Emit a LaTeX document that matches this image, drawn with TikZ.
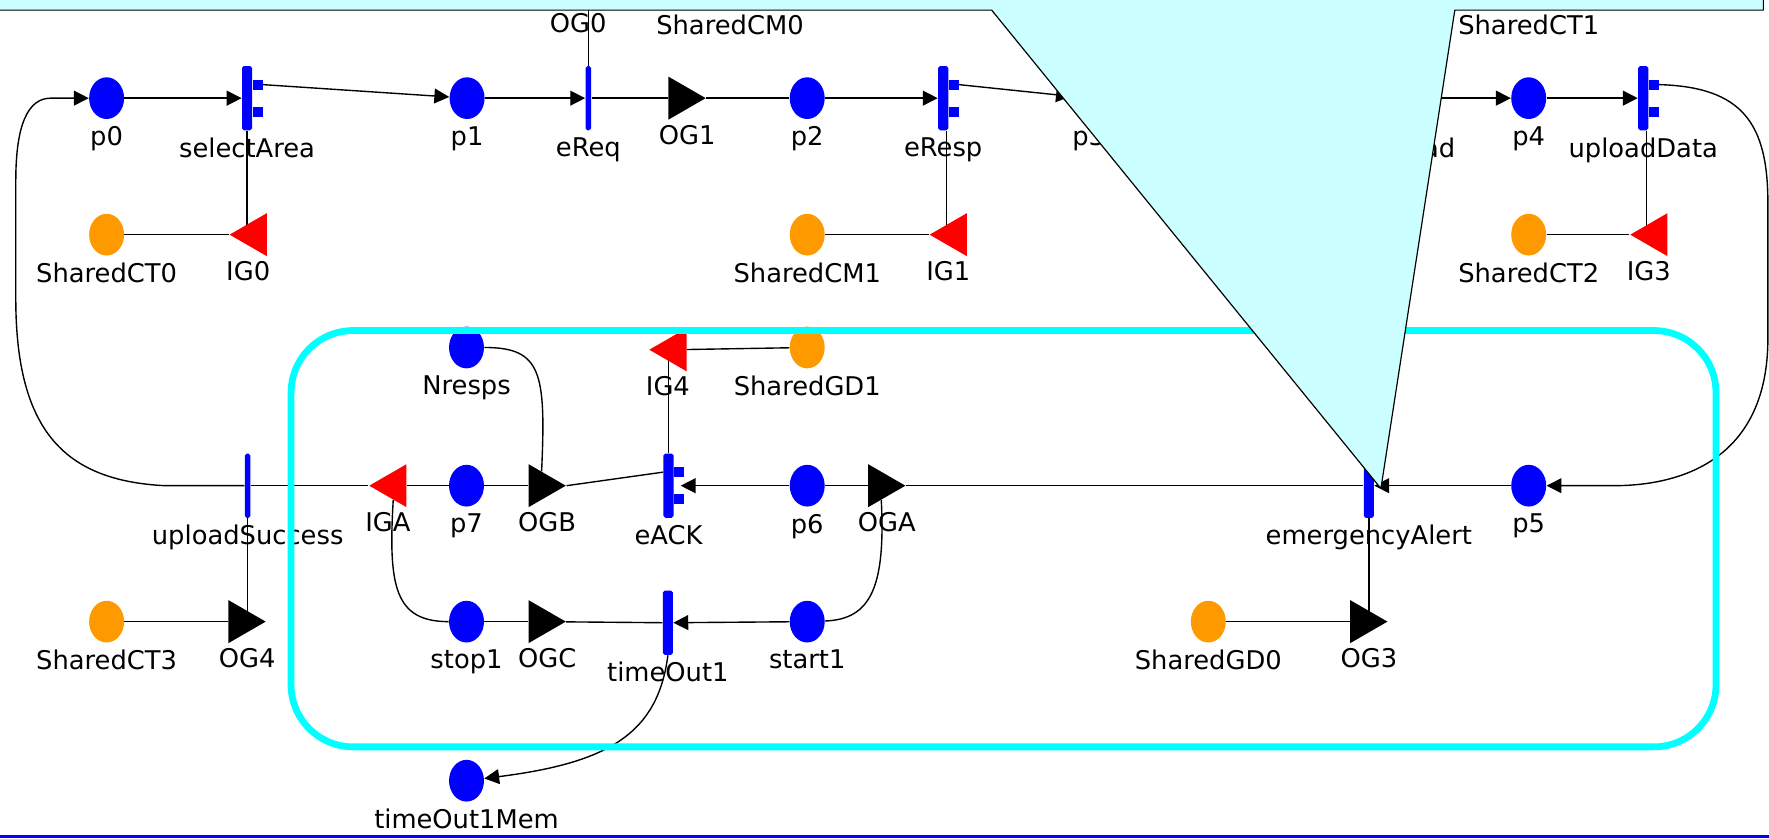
\documentclass[tikz,border=0pt]{standalone}
\definecolor{placeBlue}{HTML}{0000FF}
\definecolor{sharedOrange}{HTML}{FF9900}
\definecolor{gateRed}{HTML}{FF0000}
\definecolor{regionCyan}{HTML}{00FFFF}
\definecolor{noteCyan}{HTML}{CCFFFF}
\usepackage{tikz}
\usetikzlibrary{calc, shapes.geometric, arrows.meta, backgrounds}
\usepackage{xcolor}
\usepackage{fontspec}
\setmainfont{DejaVu Sans}
\tikzset{
  place/.style={ellipse, fill=placeBlue, minimum width=0.62cm, minimum height=0.74cm, inner sep=0pt},
  sharedPlace/.style={place, fill=sharedOrange},
  trans/.style={rectangle, fill=placeBlue, rounded corners=1pt, minimum width=0.18cm, minimum height=1.14cm, inner sep=0pt},
  instTrans/.style={trans, minimum width=0.1cm},
  gate/.style={regular polygon, regular polygon sides=3, minimum size=0.88cm, inner sep=0pt},
  outGate/.style={gate, regular polygon rotate=-90, fill=black, label={[xshift=0.11cm, yshift=-0.09cm]below:#1}},
  inGate/.style={gate, regular polygon rotate=90, fill=gateRed, label={[xshift=-0.11cm, yshift=-0.09cm]below:#1}},
  flow/.style={draw=black, line width=0.7pt, -{Triangle[length=7.5pt, width=7.5pt]}},
  link/.style={draw=black, line width=0.7pt}
}

\begin{document}
\begin{tikzpicture}[x=0.02cm, y=-0.02cm, font=\fontsize{13}{15}\selectfont]
        \useasboundingbox (0,0) rectangle (1568,743);

        \node[outGate=OG0] (OG0) at (507,-12) {};
        \node[sharedPlace, label=below:SharedCM0] (SharedCM0) at (647,-12) {};
        \node[sharedPlace, label=below:SharedCT1] (SharedCT1) at (1355,-12) {};

        \node[place, label=below:p0] (p0) at (94.5,87) {};
        \node[trans, label=below:selectArea] (selectArea) at (219,87) {};
        \node[place, label=below:p1] (p1) at (414,87) {};
        \node[instTrans, label=below:eReq] (eReq) at (521.5,87) {};
        \node[outGate=OG1] (OG1) at (603.5,87) {};
        \node[place, label=below:p2] (p2) at (715.5,87) {};
        \node[trans, label=below:eResp] (eResp) at (836,87) {};
        \node[place, label=below:p3] (p3) at (965,87) {};
        \node[trans, label=below:upload] (upload) at (1251,87) {};
        \node[place, label=below:p4] (p4) at (1355,87) {};
        \node[trans, label=below:uploadData] (uploadData) at (1456.5,87) {};

        \node[sharedPlace, label=below:SharedCT0] (SharedCT0) at (94.5,208) {};
        \node[inGate=IG0] (IG0) at (225.5,208) {};
        \node[sharedPlace, label=below:SharedCM1] (SharedCM1) at (715.5,208) {};
        \node[inGate=IG1] (IG1) at (846,208) {};
        \node[sharedPlace, label=below:SharedCT2] (SharedCT2) at (1355,208) {};
        \node[inGate=IG3] (IG3) at (1467,208) {};

        \node[place, label=below:Nresps] (Nresps) at (413.5,308) {};
        \node[inGate=IG4] (IG4) at (597.5,310) {};
        \node[sharedPlace, label=below:SharedGD1] (SharedGD1) at (715.5,308) {};

        \node[instTrans, label=below:uploadSuccess] (uploadSuccess) at (219.5,430.5) {};
        \node[inGate=IGA] (IGA) at (349.3,430.5) {};
        \node[place, label=below:p7] (p7) at (413.5,430.5) {};
        \node[outGate=OGB] (OGB) at (479.5,430.5) {};
        \node[trans, label=below:eACK] (eACK) at (592.5,430.5) {};
        \node[place, label=below:p6] (p6) at (715.5,430.5) {};
        \node[outGate=OGA] (OGA) at (780.5,430.5) {};
        \node[trans, label=below:emergencyAlert] (emergencyAlert) at (1213.3,430.5) {};
        \node[place, label=below:p5] (p5) at (1355,430.5) {};

        \node[sharedPlace, label=below:SharedCT3] (SharedCT3) at (94.5,551) {};
        \node[outGate=OG4] (OG4) at (213.5,551) {};
        \node[place, label=below:stop1] (stop1) at (413.5,551) {};
        \node[outGate=OGC] (OGC) at (479.5,551) {};
        \node[trans, label=below:timeOut1] (timeOut1) at (592,552) {};
        \node[place, label=below:start1] (start1) at (715.5,551) {};
        \node[sharedPlace, label=below:SharedGD0] (SharedGD0) at (1071,551) {};
        \node[outGate=OG3] (OG3) at (1207.8,551) {};

        \node[place, label=below:timeOut1Mem] (timeOut1Mem) at (413.5,692) {};

        \foreach \t in {selectArea, eResp, eACK, uploadData} {
          \fill[placeBlue] ([yshift=0.15cm]\t.east) rectangle ++(9,-9);
          \fill[placeBlue] ([yshift=-0.15cm]\t.east) rectangle ++(9,9);
        }

        \begin{scope}[on background layer]
          \draw[link] (eReq.north) -- (eReq.north |- OG0.center);
          \draw[link] (selectArea.south) -- (selectArea.south |- IG0.center);
          \draw[link] ([xshift=0.06cm]eResp.south) -- ([xshift=0.06cm]eResp.south |- IG1.center);
          \draw[link] ([xshift=0.06cm]uploadData.south) -- ([xshift=0.06cm]uploadData.south |- IG3.center);
          \draw[link] (eACK.north) -- (eACK.north |- IG4.center);
          \draw[link] (uploadSuccess.south) -- (uploadSuccess.south |- OG4.center);
          \draw[link] (emergencyAlert.south) -- (emergencyAlert.south |- OG3.center);
        \end{scope}

        \draw[flow] (p0) -- (selectArea);
        \draw[flow] ([xshift=0.18cm, yshift=0.24cm]selectArea.east) -- (p1);
        \draw[flow] (p1) -- (eReq);
        \draw[link] (eReq) -- (OG1);
        \draw[link] (OG1) -- (p2);
        \draw[flow] (p2) -- (eResp);
        \draw[flow] ([xshift=0.18cm, yshift=0.24cm]eResp.east) -- (p3);
        \draw[flow] (upload) -- (p4);
        \draw[flow] (p4) -- (uploadData);
        \draw[link] (SharedCT0) -- (IG0);
        \draw[link] (SharedCM1) -- (IG1);
        \draw[link] (SharedCT2) -- (IG3);
        \draw[flow] ([xshift=0.18cm, yshift=0.24cm]uploadData.east) .. controls (1545,77) and (1567,110) .. (1567,180)
          -- (1567,300) .. controls (1567,400) and (1500,430.5) .. (1430,430.5) -- (p5);

        \draw[flow] (p5) -- (emergencyAlert);
        \draw[link] (OGA) -- (emergencyAlert);
        \draw[link] (p6) -- (OGA);
        \draw[flow] (p6) -- ([xshift=0.12cm]eACK.east);
        \draw[link] (OGB.east) -- ([yshift=0.24cm]eACK.west);
        \draw[link] (p7) -- (OGB);
        \draw[link] (IGA) -- (p7);
        \draw[link] (uploadSuccess) -- (IGA);
        \draw[flow] (uploadSuccess.west) -- (146,430.5) .. controls (60,426) and (14,385) .. (14,265)
          -- (14,160) .. controls (14,110) and (25,87) .. (45,87) -- (p0);
        \draw[link] (SharedCT3) -- (OG4);
        \draw[link] (Nresps.east) .. controls (480,308) and (484,330) .. (OGB);
        \draw[link] (SharedGD1) -- (IG4);
        \draw[link] (IGA) .. controls (344,520) and (350,551) .. (stop1);
        \draw[link] (stop1) -- (OGC);
        \draw[link] (OGC) -- (timeOut1);
        \draw[flow] (start1) -- (timeOut1);
        \draw[link] (start1) .. controls (772,549) and (785,520) .. (OGA);
        \draw[flow] (timeOut1.south) .. controls (583,650) and (540,676) .. (timeOut1Mem);
        \draw[link] (SharedGD0) -- (OG3);

        \draw[regionCyan, line width=0.12cm, rounded corners=1.1cm] (258,293) rectangle (1521,662);

        \filldraw[fill=noteCyan, draw=black, line width=0.6pt, line join=round]
          (-5,-5) -- (-5,9) -- (879,9) -- (1224,433) -- (1289.5,9) -- (1563,9) -- (1563,-5) -- cycle;

        \draw[placeBlue, line width=0.05cm] (0,741.5) -- (1568,741.5);
\end{tikzpicture}
\end{document}
